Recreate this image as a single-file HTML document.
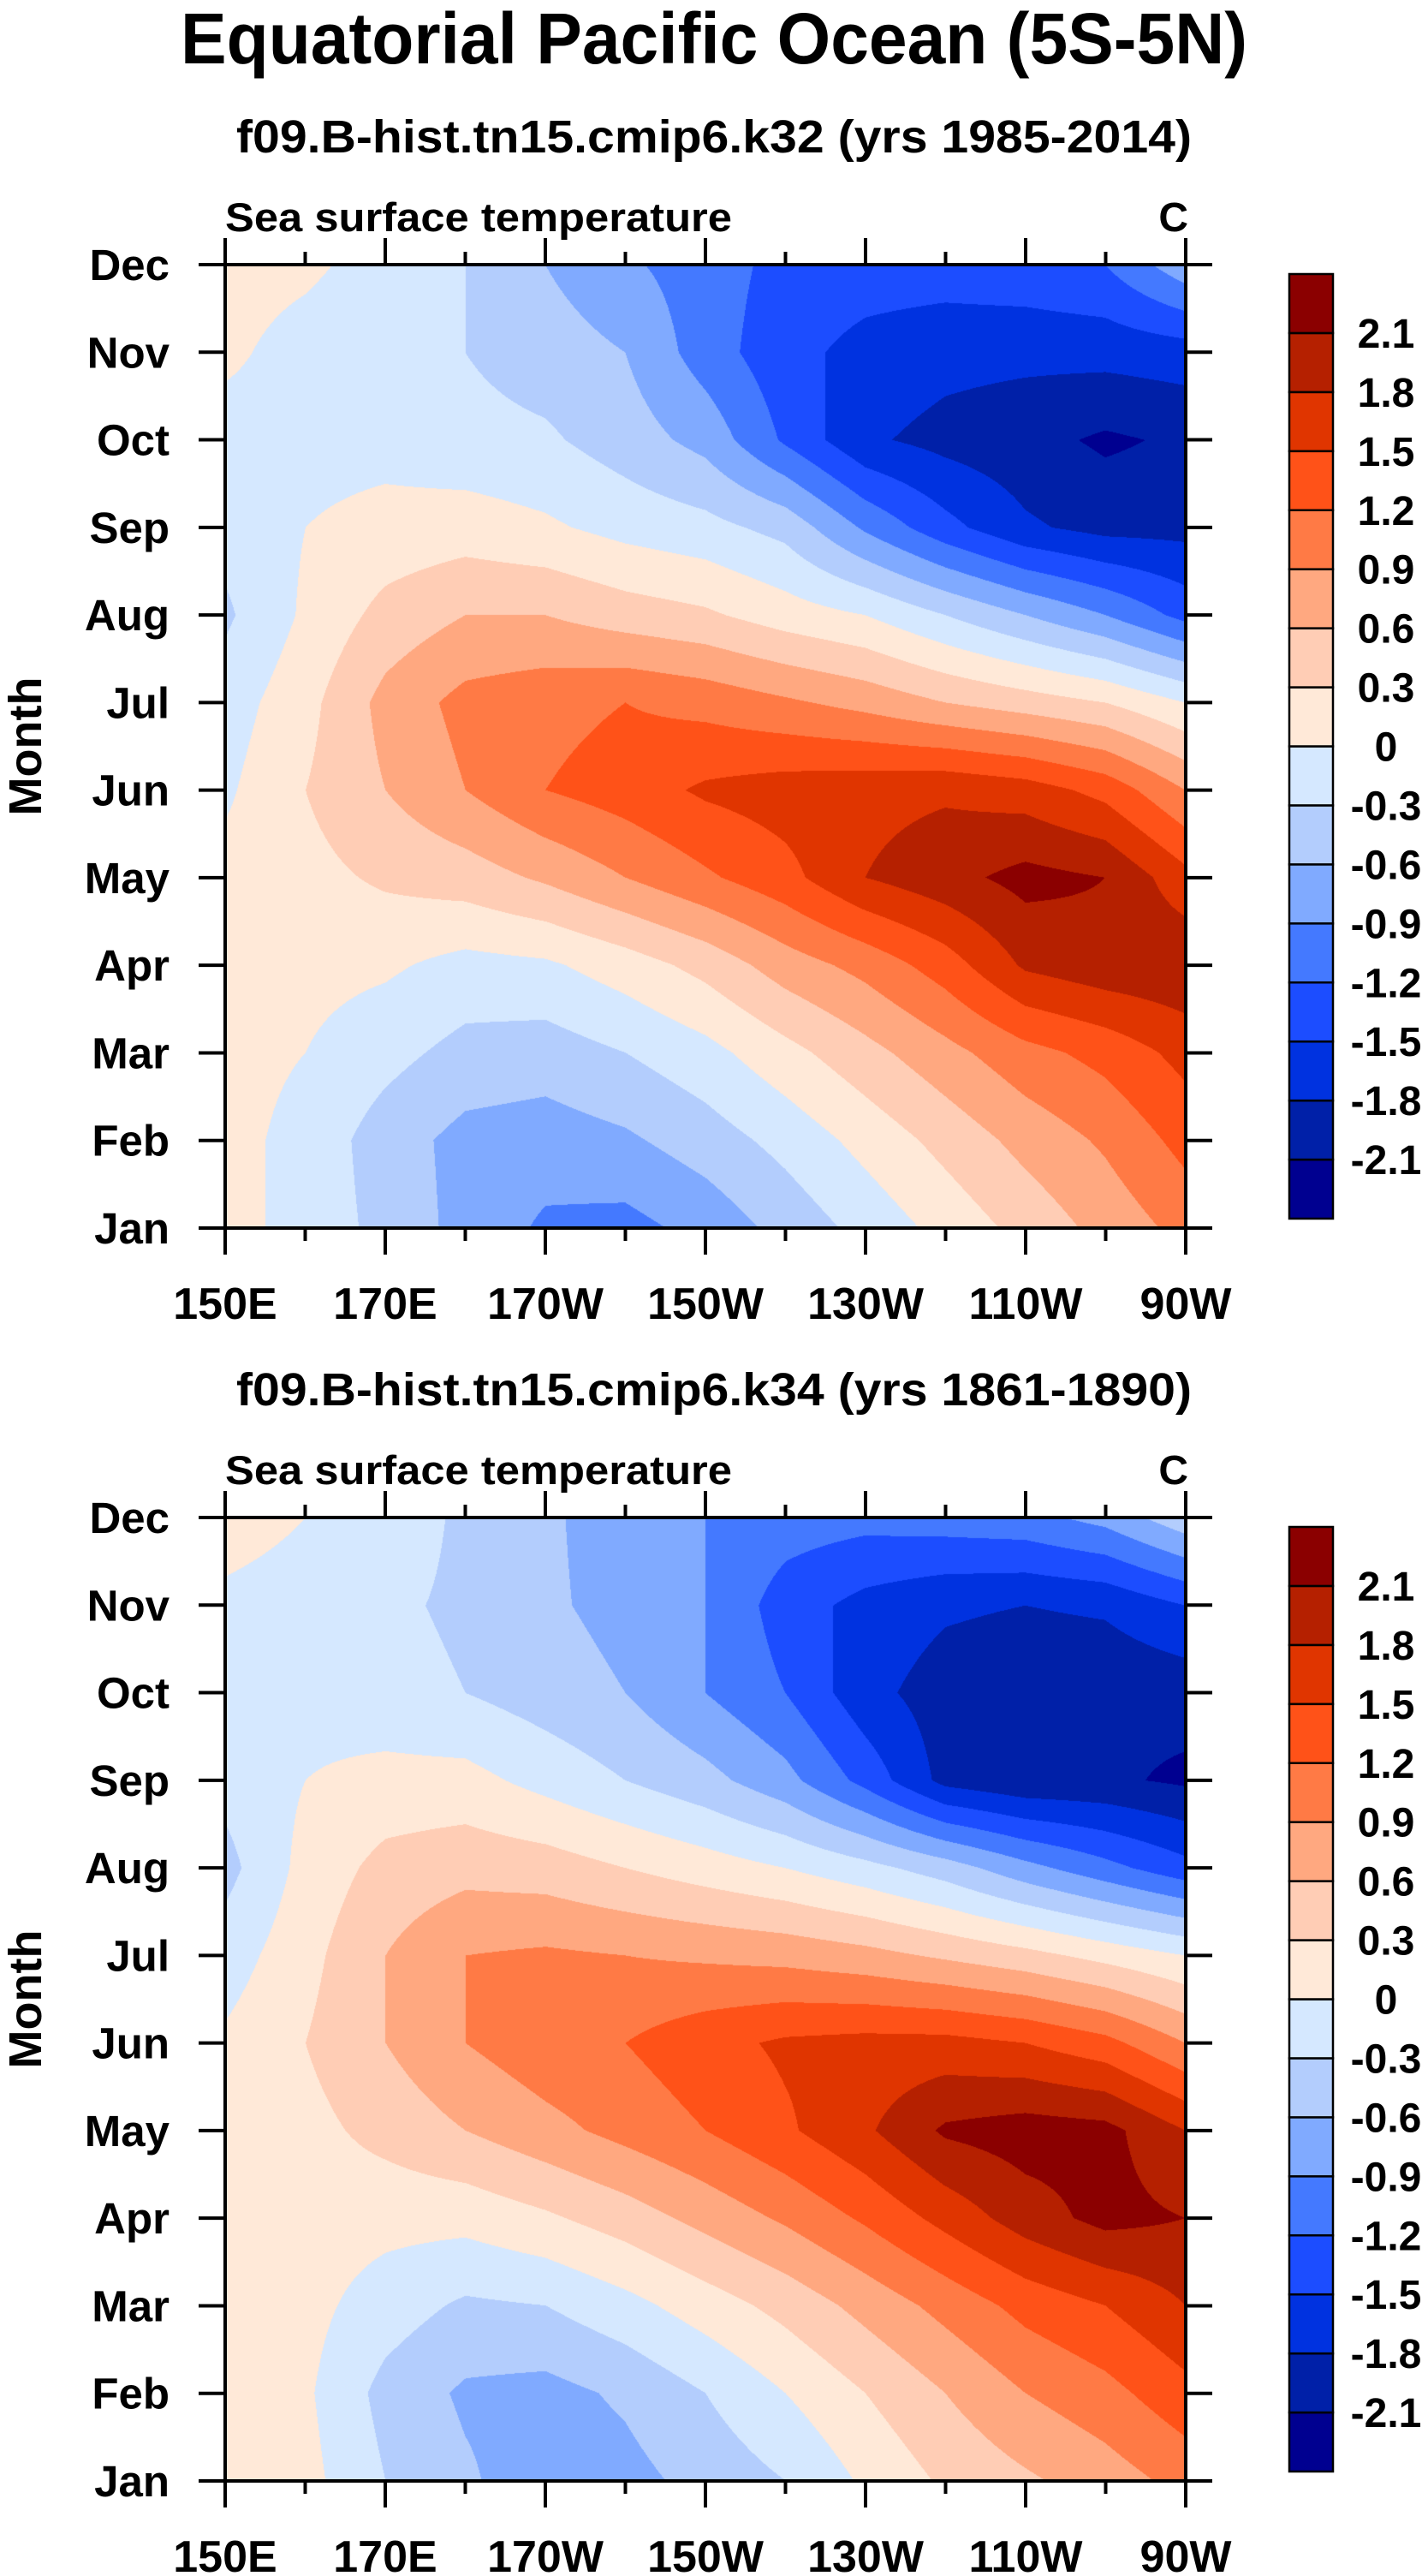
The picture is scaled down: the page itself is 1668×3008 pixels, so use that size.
<!DOCTYPE html>
<html><head><meta charset="utf-8"><style>
html,body{margin:0;padding:0;background:#fff;}
#root{position:relative;width:1668px;height:3008px;overflow:hidden;}
svg text{font-family:"Liberation Sans",sans-serif;font-weight:bold;fill:#000;}
canvas{position:absolute;}
</style></head><body>
<div id="root">
<canvas id="c1" style="left:263px;top:309px" width="1122" height="1125"></canvas>
<canvas id="c2" style="left:263px;top:1772px" width="1122" height="1125"></canvas>
<svg id="svg" width="1668" height="3008" style="position:absolute;left:0;top:0" xmlns="http://www.w3.org/2000/svg">
<text x="834" y="74" font-size="84" text-anchor="middle" textLength="1246" lengthAdjust="spacingAndGlyphs">Equatorial Pacific Ocean (5S-5N)</text>
</svg>
</div>
<script>
const levels=[-2.1,-1.8,-1.5,-1.2,-0.9,-0.6,-0.3,0,0.3,0.6,0.9,1.2,1.5,1.8,2.1];
const colors=["#000090","#0020a8","#0032e0","#1c4dff","#4479ff","#80aaff","#b3cdfd","#d5e8ff","#ffe9d8","#ffcdb5","#ffa880","#ff7a45","#ff5218","#e03500","#b52000","#8b0000"];
const lons=[150,160,170,180,190,200,210,220,230,240,250,260,270];
const months=["Jan","Feb","Mar","Apr","May","Jun","Jul","Aug","Sep","Oct","Nov","Dec"];
const xTickLabels=["150E","170E","170W","150W","130W","110W","90W"];
const xTickLons=[150,170,190,210,230,250,270];
const sst1=[
[0.1,-0.1,-0.4,-0.7,-0.95,-1.0,-0.8,-0.5,-0.2,0.1,0.4,0.7,1.0],
[0.1,-0.1,-0.45,-0.7,-0.75,-0.65,-0.45,-0.2,0.1,0.4,0.7,0.95,1.3],
[0.1,0.0,-0.2,-0.4,-0.45,-0.3,-0.1,0.2,0.5,0.8,1.1,1.3,1.6],
[0.1,0.1,0.05,-0.1,-0.05,0.15,0.4,0.75,1.0,1.35,1.85,2.0,2.05],
[0.1,0.2,0.35,0.45,0.65,0.9,1.15,1.4,1.8,2.0,2.2,2.1,1.6],
[-0.05,0.3,0.6,0.9,1.2,1.35,1.55,1.65,1.7,1.75,1.65,1.4,0.9],
[-0.15,0.2,0.7,1.0,1.1,1.2,1.1,0.95,0.8,0.6,0.45,0.3,0.0],
[-0.35,0.05,0.4,0.6,0.6,0.45,0.35,0.15,0.0,-0.3,-0.6,-0.9,-1.3],
[-0.2,0.0,0.1,0.15,0.05,-0.1,-0.2,-0.4,-0.95,-1.4,-1.75,-1.9,-1.9],
[-0.1,-0.1,-0.1,-0.2,-0.25,-0.45,-0.7,-1.25,-1.75,-1.9,-2.0,-2.15,-2.05],
[0.05,-0.1,-0.2,-0.3,-0.45,-0.6,-1.05,-1.4,-1.6,-1.7,-1.72,-1.7,-1.65],
[0.1,0.05,-0.1,-0.3,-0.6,-0.85,-1.05,-1.3,-1.35,-1.35,-1.3,-1.2,-0.7]];
const sst2=[
[0.15,0.1,-0.3,-0.55,-0.8,-0.7,-0.5,-0.3,0.05,0.35,0.55,0.75,1.0],
[0.15,0.05,-0.4,-0.65,-0.7,-0.55,-0.3,0.0,0.3,0.6,0.9,1.1,1.4],
[0.15,0.1,-0.15,-0.35,-0.3,-0.1,0.15,0.4,0.7,1.0,1.3,1.5,1.8],
[0.15,0.15,0.1,0.1,0.25,0.45,0.7,0.95,1.25,1.6,1.95,2.2,2.1],
[0.15,0.2,0.4,0.6,0.8,1.0,1.2,1.45,1.75,2.15,2.25,2.2,1.8],
[0.05,0.3,0.6,0.9,1.1,1.2,1.4,1.55,1.6,1.6,1.5,1.3,0.9],
[-0.15,0.2,0.6,0.9,0.95,0.9,0.85,0.8,0.7,0.55,0.4,0.2,0.0],
[-0.4,0.1,0.4,0.5,0.45,0.3,0.15,0.0,-0.2,-0.45,-0.8,-1.1,-1.4],
[-0.2,0.0,0.1,0.1,-0.1,-0.3,-0.5,-0.8,-1.3,-1.9,-2.05,-2.05,-2.15],
[-0.1,-0.1,-0.2,-0.3,-0.45,-0.6,-0.9,-1.2,-1.7,-1.95,-2.05,-2.05,-2.0],
[-0.05,-0.1,-0.25,-0.35,-0.55,-0.7,-0.9,-1.35,-1.6,-1.75,-1.8,-1.75,-1.5],
[0.1,0.0,-0.15,-0.35,-0.55,-0.75,-0.9,-1.05,-1.1,-1.05,-1.0,-0.8,-0.4]];
const subtitles=["f09.B-hist.tn15.cmip6.k32 (yrs 1985-2014)","f09.B-hist.tn15.cmip6.k34 (yrs 1861-1890)"];
const colorbarLabels=["2.1","1.8","1.5","1.2","0.9","0.6","0.3","0","-0.3","-0.6","-0.9","-1.2","-1.5","-1.8","-2.1"];

const PL=263,PR=1385,PW=PR-PL,PH=1125;
const offsets=[309,1772];
function hex(c){return [parseInt(c.slice(1,3),16),parseInt(c.slice(3,5),16),parseInt(c.slice(5,7),16)];}
const rgb=colors.map(hex);
function binOf(v){let i=0;while(i<levels.length&&v>=levels[i])i++;return i;}
function fill(id,data){
  const cv=document.getElementById(id),ctx=cv.getContext('2d');
  const W=cv.width,H=cv.height,img=ctx.createImageData(W,H),d=img.data;
  const nx=lons.length-1,ny=months.length-1;
  for(let y=0;y<H;y++){
    const v=(1-y/(H-1))*ny;let j=Math.min(Math.floor(v),ny-1);const fy=v-j;
    for(let x=0;x<W;x++){
      const u=x/(W-1)*nx;let i=Math.min(Math.floor(u),nx-1);const fx=u-i;
      const val=(data[j][i]*(1-fx)+data[j][i+1]*fx)*(1-fy)+(data[j+1][i]*(1-fx)+data[j+1][i+1]*fx)*fy;
      const c=rgb[binOf(val)],k=(y*W+x)*4;
      d[k]=c[0];d[k+1]=c[1];d[k+2]=c[2];d[k+3]=255;
    }
  }
  ctx.putImageData(img,0,0);
}
fill('c1',sst1);fill('c2',sst2);

const svg=document.getElementById('svg'),NS="http://www.w3.org/2000/svg";
function mk(tag,attrs,parent){const e=document.createElementNS(NS,tag);for(const k in attrs)e.setAttribute(k,attrs[k]);(parent||svg).appendChild(e);return e;}
function xs(lon){return PL+(lon-150)/120*PW;}
function ys(m,top){return top+PH-m/11*PH;}
offsets.forEach((top,p)=>{
  const g=mk('g',{});
  
  
  const st=mk('text',{x:834,y:top-131,'font-size':54,'text-anchor':'middle',textLength:1116,lengthAdjust:'spacingAndGlyphs'},g);
  st.textContent=subtitles[p];
  
  
  const ls=mk('text',{x:263,y:top-39,'font-size':47,textLength:592,lengthAdjust:'spacingAndGlyphs'},g);
  ls.textContent="Sea surface temperature";
  
  
  const un=mk('text',{x:1388,y:top-39,'font-size':48,'text-anchor':'end'},g);
  un.textContent="C";
  
  
  const yt=mk('text',{x:0,y:0,'font-size':54,'text-anchor':'middle',transform:`translate(48,${top+PH/2}) rotate(-90)`},g);
  yt.textContent="Month";
  
  
  const fr=mk('rect',{x:PL,y:top,width:PW,height:PH,fill:'none',stroke:'#000','stroke-width':4},g);
  
  
  months.forEach((m,i)=>{
    const y=ys(i,top);
    const t1=mk('line',{x1:PL-31,x2:PL,y1:y,y2:y,stroke:'#000','stroke-width':4},g);
    
    
    const t2=mk('line',{x1:PR,x2:PR+31,y1:y,y2:y,stroke:'#000','stroke-width':4},g);
    
    
    const lb=mk('text',{x:198,y:y+18,'font-size':51,'text-anchor':'end'},g);
    lb.textContent=m;
    
    
  });
  for(let lon=150;lon<=270;lon+=10){
    const major=(lon-150)%20===0,len=major?31:15,x=xs(lon);
    const b=mk('line',{x1:x,x2:x,y1:top+PH,y2:top+PH+len,stroke:'#000','stroke-width':4},g);
    
    
    const t=mk('line',{x1:x,x2:x,y1:top,y2:top-len,stroke:'#000','stroke-width':4},g);
    
    
  }
  xTickLabels.forEach((l,i)=>{
    const tx=mk('text',{x:xs(xTickLons[i]),y:top+PH+106,'font-size':52,'text-anchor':'middle'},g);
    tx.textContent=l;
    
    
  });
  const cbTop=top+11,cbH=1103,cbX=1506,cbW=51,n=colors.length,bh=cbH/n;
  colors.forEach((c,i)=>{
    const r=mk('rect',{x:cbX,y:cbTop+(n-1-i)*bh,width:cbW,height:bh,fill:c,stroke:'#000','stroke-width':2.5},g);
    
    
  });
  colorbarLabels.forEach((l,i)=>{
    const cl=mk('text',{x:1619,y:cbTop+(i+1)*bh+17,'font-size':48,'text-anchor':'middle'},g);
    cl.textContent=l;
    
    
  });
});
</script>
</body></html>
